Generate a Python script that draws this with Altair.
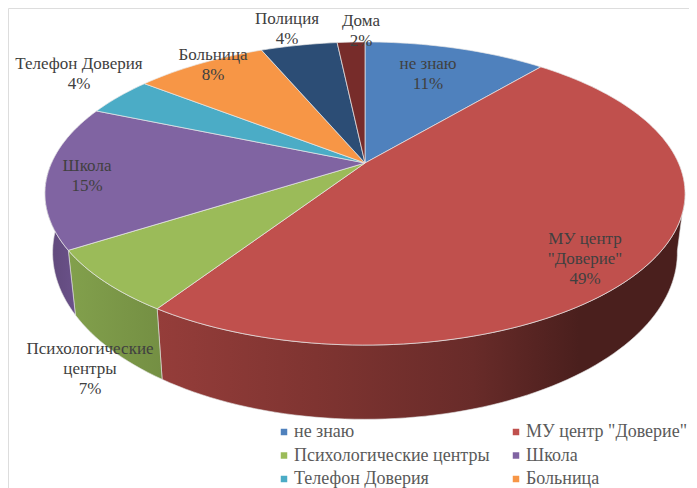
import math
import altair as alt

categories = ["не знаю", 'МУ центр "Доверие"', "Психологические центры", "Школа",
              "Телефон Доверия", "Больница", "Полиция", "Дома"]
values = [11.2, 48.1, 6.7, 15.3, 4.2, 8.1, 4.7, 1.7]
colors = ["#4f81bd", "#c0504d", "#9bbb59", "#8064a2", "#4bacc6", "#f79646", "#2c4d75", "#772c2a"]
legend_items = categories[:6]

label_lines = [["не знаю", "11%"], ["МУ центр", '"Доверие"', "49%"], ["Психологические", "центры", "7%"],
               ["Школа", "15%"], ["Телефон Доверия", "4%"], ["Больница", "8%"], ["Полиция", "4%"], ["Дома", "2%"]]
label_pos = [(428, 64), (585, 239), (90, 349), (87, 166), (79, 64), (213, 55), (287, 19), (361, 21)]

# perspective of the tilted disc, in page pixels
CX, CY, A, B, K = 365, 163, 313.5, 145.4, 0.2014
DEPTH, SY, SX = 56.0, 1.1, 0.976
OFF = 8


def rim(theta_deg, lower=False):
    t = math.radians(theta_deg)
    d = 1 + K * math.cos(t)
    x = A * math.sin(t) / d
    y = -B * math.cos(t) / d
    if lower:
        x *= SX
        y = DEPTH + SY * y
    return [CX + x - OFF, CY + y - OFF]


def arc(a0, a1, lower=False):
    n = max(2, int(abs(a1 - a0) / 1.5))
    return [rim(a0 + (a1 - a0) * i / n, lower) for i in range(n + 1)]


def feature(name, ring):
    ring = ring + [ring[0]]
    return {"type": "Feature", "properties": {"name": name},
            "geometry": {"type": "Polygon", "coordinates": [ring]}}


def geo(features):
    return alt.InlineData(values={"type": "FeatureCollection", "features": features},
                          format=alt.DataFormat(type="json", property="features"))


proj = dict(type="identity", scale=1, translate=[0, 0])

cum = [0.0]
for v in values:
    cum.append(cum[-1] + v)
ang = [c * 3.6 for c in cum]


def gradient(stops):
    return alt.LinearGradient(gradient="linear", x1=0, x2=1, y1=0, y2=0,
                              stops=[alt.GradientStop(offset=o, color=c) for o, c in stops])


side_specs = [
    (1, 101, [(0, "#953d3a"), (0.3, "#7f3431"), (0.6, "#682b29"), (0.8, "#4a1f1d"), (1, "#4a1f1d")]),
    (2, None, [(0, "#82a04c"), (1, "#748f43")]),
    (3, None, [(0, "#5f4879"), (1, "#6a5189")]),
]
layers = []
for idx, start, stops in side_specs:
    a0 = start if start is not None else ang[idx]
    a1 = ang[idx + 1]
    if idx == 3:
        a1 = 270
    ring = arc(a0, a1) + arc(a1, a0, True)
    layers.append(alt.Chart(geo([feature(categories[idx], ring)]))
                  .mark_geoshape(fill=gradient(stops), stroke="#e3e3e3", strokeWidth=0.6)
                  .project(**proj))

top = [feature(c, [[CX - OFF, CY - OFF]] + arc(ang[i], ang[i + 1])) for i, c in enumerate(categories)]
layers.append(
    alt.Chart(geo(top)).mark_geoshape(stroke="#e8e8e8", strokeWidth=0.7).encode(
        color=alt.Color("properties.name:N",
                        scale=alt.Scale(domain=categories, range=colors),
                        legend=alt.Legend(title=None, values=legend_items, orient="none", direction="horizontal",
                                          legendX=267, legendY=415, columns=2, columnPadding=17,
                                          rowPadding=5.5, symbolType="square", symbolSize=42,
                                          symbolStrokeWidth=0, labelFont="Liberation Serif",
                                          labelFontSize=18, labelColor="#5a5a5a", labelLimit=300,
                                          labelOffset=1, gridAlign="each"))
    ).project(**proj)
)

rows = []
for lines, (lx, ly) in zip(label_lines, label_pos):
    for j, t in enumerate(lines):
        rows.append({"t": t, "x": lx - OFF, "y": ly - OFF + j * 20})
layers.append(
    alt.Chart(alt.Data(values=rows)).mark_text(font="Liberation Serif", fontSize=17, color="#404040",
                                               baseline="middle", align="center").encode(
        x=alt.X("x:Q", scale=None, axis=None), y=alt.Y("y:Q", scale=None, axis=None), text="t:N")
)

chart = alt.layer(*layers).properties(width=681, height=480, padding=0, autosize=alt.AutoSizeParams(type="none")
    ).configure_view(stroke=None).configure(background="white")
chart.save("out.html", embed_options={"renderer": "svg", "actions": False})
